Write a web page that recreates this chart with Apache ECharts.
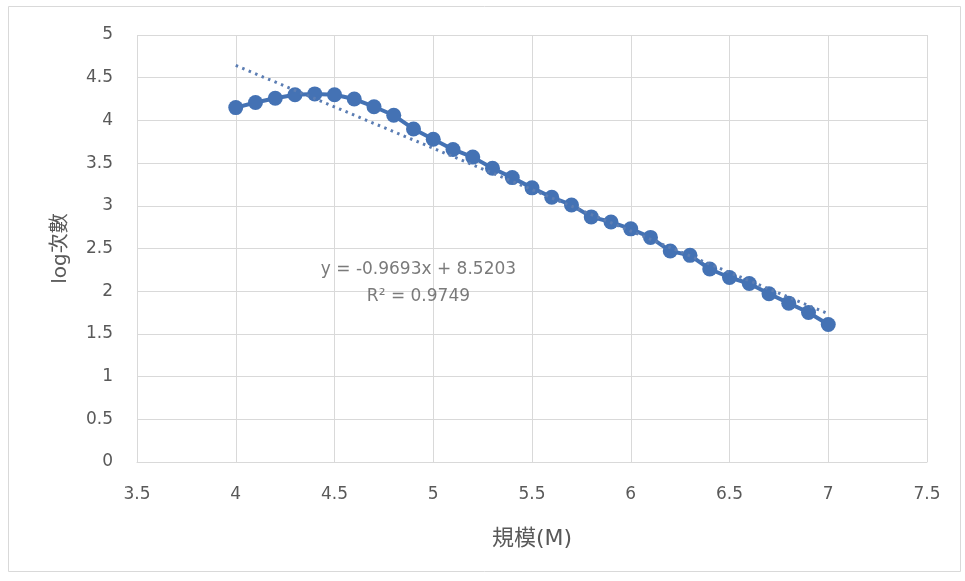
<!DOCTYPE html>
<html>
<head>
<meta charset="utf-8">
<script src="https://cdn.jsdelivr.net/npm/echarts@6/dist/echarts.min.js"></script>
<style>
  html, body { margin: 0; padding: 0; background: #fff; }
  #chart { width: 965px; height: 581px; }
</style>
</head>
<body>
<div id="chart"></div>
<script>
// Magnitude (M) values and log of event counts
const magnitudes = [4.0, 4.1, 4.2, 4.3, 4.4, 4.5, 4.6, 4.7, 4.8, 4.9,
                    5.0, 5.1, 5.2, 5.3, 5.4, 5.5, 5.6, 5.7, 5.8, 5.9,
                    6.0, 6.1, 6.2, 6.3, 6.4, 6.5, 6.6, 6.7, 6.8, 6.9, 7.0];
const logCounts = [4.15, 4.21, 4.26, 4.30, 4.31, 4.30, 4.25, 4.16, 4.06, 3.90,
                   3.78, 3.66, 3.57, 3.44, 3.33, 3.21, 3.10, 3.01, 2.87, 2.81,
                   2.73, 2.63, 2.47, 2.42, 2.26, 2.16, 2.09, 1.97, 1.86, 1.75, 1.61];

// Linear trend line coefficients
const trendSlope = -0.9693;
const trendIntercept = 8.5203;
const trendR2 = 0.9749;
const trendRange = [4.0, 7.0];

// Where the trend equation is written, in data coordinates
const equationAnchor = [4.925, 2.1];

const xTicks = { min: 3.5, max: 7.5, interval: 0.5 };
const yTicks = { min: 0, max: 5, interval: 0.5 };

const pointData = magnitudes.map((m, i) => [m, logCounts[i]]);
const trendData = trendRange.map(x => [x, trendSlope * x + trendIntercept]);

const chart = echarts.init(document.getElementById('chart'));
const textColor = '#595959';
const latinFont = '"DejaVu Sans", sans-serif';
const cjkFont = '"DejaVu Sans", "Noto Sans CJK TC", sans-serif';

chart.setOption({
  animation: false,
  backgroundColor: '#fff',
  textStyle: { fontFamily: latinFont },
  grid: { left: 137, right: 38, top: 35, bottom: 119 },
  graphic: [{
    type: 'rect',
    shape: { x: 8.5, y: 6.5, width: 952, height: 565 },
    style: { fill: 'none', stroke: '#d9d9d9', lineWidth: 1 },
    silent: true
  }],
  xAxis: {
    type: 'value',
    min: xTicks.min, max: xTicks.max, interval: xTicks.interval,
    name: '規模(M)',
    nameLocation: 'middle',
    nameGap: 66,
    nameTextStyle: { color: textColor, fontSize: 22, fontFamily: cjkFont },
    axisLine: { show: true, lineStyle: { color: '#d9d9d9' } },
    axisTick: { show: false },
    axisLabel: { color: textColor, fontSize: 17, margin: 24, fontFamily: latinFont },
    splitLine: { show: true, lineStyle: { color: '#d9d9d9', width: 1 } }
  },
  yAxis: {
    type: 'value',
    min: yTicks.min, max: yTicks.max, interval: yTicks.interval,
    name: 'log次數',
    nameLocation: 'middle',
    nameGap: 66,
    nameRotate: 90,
    nameTextStyle: { color: textColor, fontSize: 20, fontFamily: cjkFont },
    axisLine: { show: false },
    axisTick: { show: false },
    axisLabel: { color: textColor, fontSize: 17, margin: 24, fontFamily: latinFont },
    splitLine: { show: true, lineStyle: { color: '#d9d9d9', width: 1 } }
  },
  series: [
    {
      name: 'trend',
      type: 'line',
      data: trendData,
      showSymbol: false,
      symbol: 'none',
      lineStyle: { color: '#5b7db3', width: 3, type: [2.5, 4.5] },
      z: 3,
      silent: true
    },
    {
      name: 'log次數',
      type: 'line',
      data: pointData,
      symbol: 'circle',
      symbolSize: 15,
      lineStyle: { color: '#4472b4', width: 4 },
      itemStyle: { color: '#4472b4' },
      z: 2
    },
    {
      name: 'equation',
      type: 'scatter',
      data: [equationAnchor],
      symbolSize: 0,
      silent: true,
      label: {
        show: true,
        position: 'inside',
        formatter: 'y = -' + Math.abs(trendSlope).toFixed(4) + 'x + ' + trendIntercept.toFixed(4) +
                   '\nR² = ' + trendR2.toFixed(4),
        color: textColor,
        fontSize: 17,
        lineHeight: 27,
        align: 'center',
        fontFamily: latinFont
      }
    }
  ]
});
</script>
</body>
</html>
